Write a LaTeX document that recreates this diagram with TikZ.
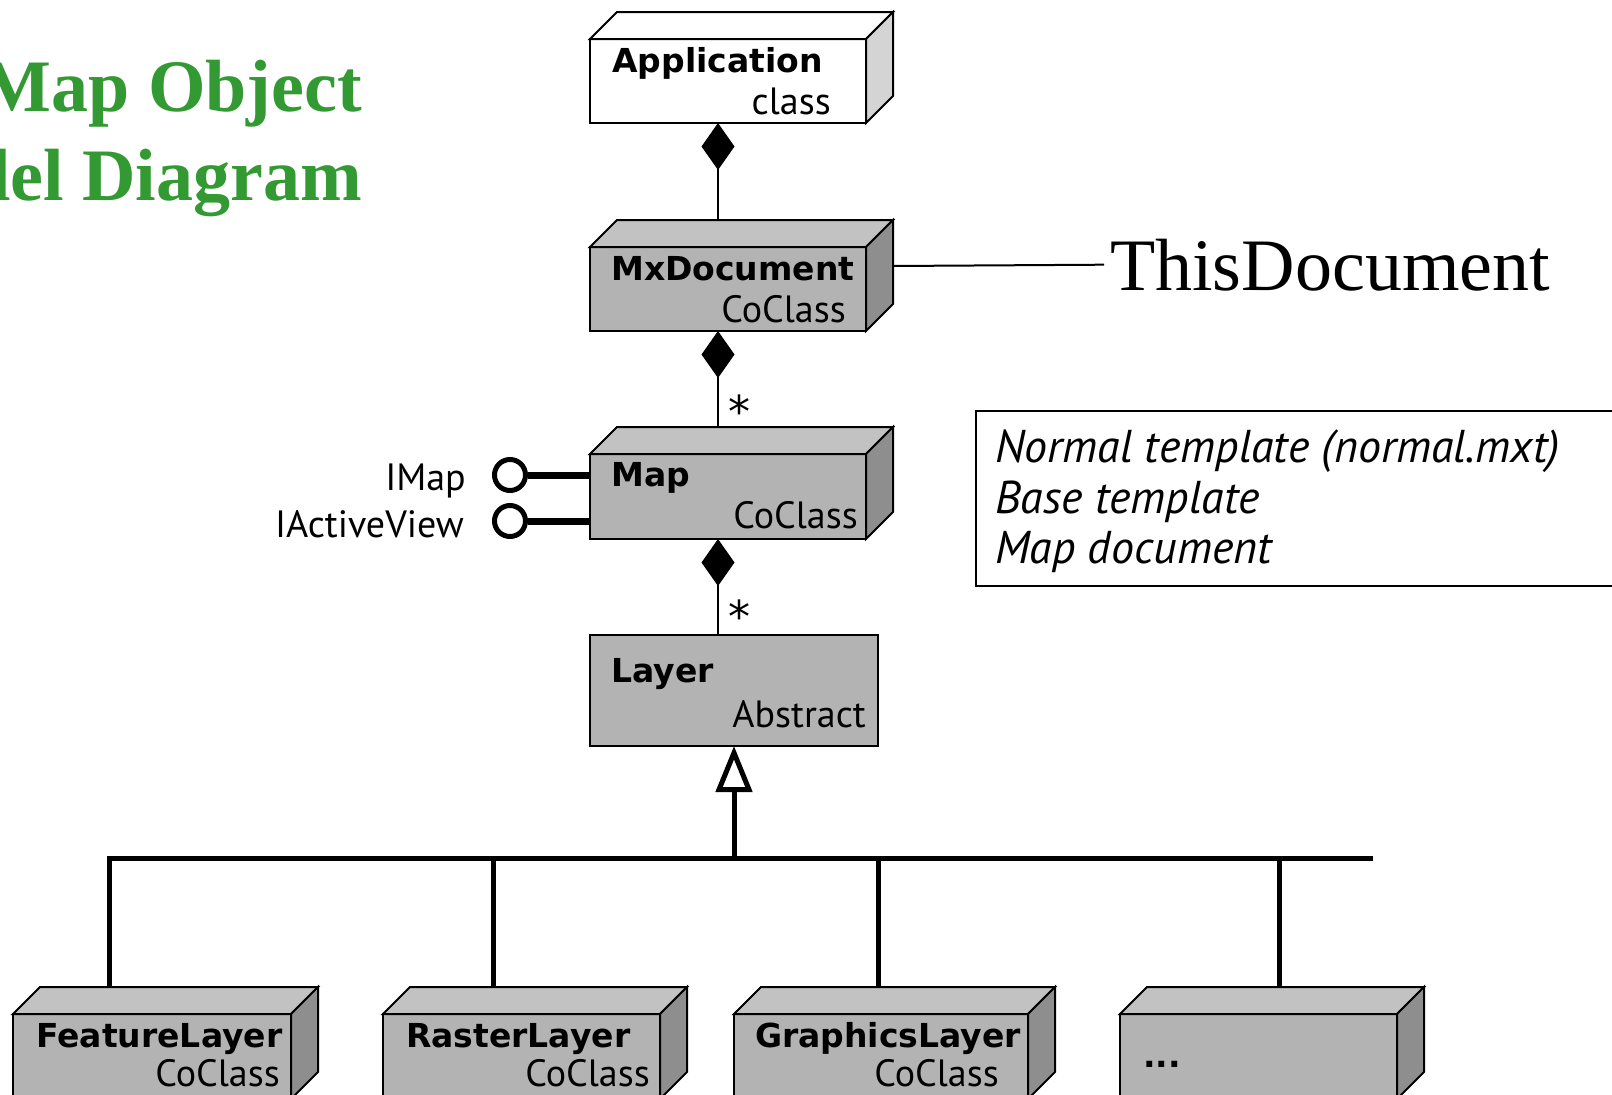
\documentclass[tikz,border=0pt]{standalone}
\usepackage{fontspec}
\usetikzlibrary{calc,arrows.meta}
\newfontfamily\dvs{DejaVu Sans}
\newfontfamily\pts{PT Sans}
\newfontfamily\lser{Liberation Serif}
\definecolor{titlegreen}{HTML}{339933}
\definecolor{frontgray}{HTML}{B3B3B3}
\definecolor{topgray}{HTML}{C2C2C2}
\definecolor{sidegray}{HTML}{8E8E8E}
\definecolor{sidelight}{HTML}{D4D4D4}
\newcommand\cubefaces[3]{%
  \filldraw[facestyle, fill=#2] (#1.north west) -- ++(27pt,27pt) -- ($(#1.north east)+(27pt,27pt)$) -- (#1.north east) -- cycle;
  \filldraw[facestyle, fill=#3] (#1.north east) -- ++(27pt,27pt) -- ($(#1.south east)+(27pt,27pt)$) -- (#1.south east) -- cycle;}
\begin{document}
\begin{tikzpicture}[x=1pt,y=-1pt,
  frontbox/.style={draw, line width=2pt, inner sep=0pt, outer sep=0pt},
  facestyle/.style={draw, line width=2pt},
  cname/.style={font=\dvs\bfseries\fontsize{33pt}{40pt}\selectfont, inner sep=0pt, anchor=base west},
  ckind/.style={font=\pts\fontsize{38pt}{44pt}\selectfont, inner sep=0pt, anchor=base east},
  iface/.style={font=\pts\fontsize{38pt}{44pt}\selectfont, inner sep=0pt, anchor=base east},
  notetext/.style={font=\pts\itshape\fontsize{46pt}{50pt}\selectfont, inner sep=0pt, anchor=base west},
  titletext/.style={font=\lser\bfseries\fontsize{74pt}{80pt}\selectfont, text=titlegreen, inner sep=0pt, anchor=base east},
  startext/.style={font=\dvs\fontsize{44pt}{48pt}\selectfont, inner sep=0pt, anchor=base},
  assoc/.style={draw, line width=2pt},
  compo/.style={assoc, {Diamond[length=47pt,width=33pt]}-},
  inh/.style={draw, line width=5pt},
  lolly/.style={circle, draw, line width=5pt, fill=white, minimum size=31pt, inner sep=0pt},
  lollyline/.style={draw, line width=7pt}
]
\useasboundingbox (0,0) rectangle (1612,1095);
\clip (0,0) rectangle (1612,1095);

% title
\node[titletext] (title1) at (362,111) {Map Object};
\node[titletext] (title2) at (362,200) {del Diagram};

% Application
\node[frontbox, fill=white, minimum width=276pt, minimum height=84pt] (app) at (728,81) {};
\cubefaces{app}{white}{sidelight}
\node[cname] (appN) at (612,72) {Application};
\node[ckind] (appK) at (831,114) {class};

% MxDocument
\node[frontbox, fill=frontgray, minimum width=276pt, minimum height=84pt] (mx) at (728,289) {};
\cubefaces{mx}{topgray}{sidegray}
\node[cname] (mxN) at (611,280) {MxDocument};
\node[ckind] (mxK) at (846,322) {CoClass};

% Map
\node[frontbox, fill=frontgray, minimum width=276pt, minimum height=85pt] (map) at (728,496.5) {};
\cubefaces{map}{topgray}{sidegray}
\node[cname] (mapN) at (611,486) {Map};
\node[ckind] (mapK) at (858,528) {CoClass};

% Layer
\node[frontbox, fill=frontgray, minimum width=288pt, minimum height=111pt] (layer) at (734,690.5) {};
\node[cname] (layerN) at (611,682) {Layer};
\node[ckind] (layerK) at (866,727) {Abstract};

% bottom classes
\node[frontbox, fill=frontgray, minimum width=278pt, minimum height=85pt] (fl) at (152,1056.5) {};
\cubefaces{fl}{topgray}{sidegray}
\node[cname] (flN) at (36,1047) {FeatureLayer};
\node[ckind] (flK) at (280,1086) {CoClass};

\node[frontbox, fill=frontgray, minimum width=277pt, minimum height=85pt] (rl) at (521.5,1056.5) {};
\cubefaces{rl}{topgray}{sidegray}
\node[cname] (rlN) at (406,1047) {RasterLayer};
\node[ckind] (rlK) at (650,1086) {CoClass};

\node[frontbox, fill=frontgray, minimum width=294pt, minimum height=85pt] (gl) at (881,1056.5) {};
\cubefaces{gl}{topgray}{sidegray}
\node[cname] (glN) at (755,1047) {GraphicsLayer};
\node[ckind] (glK) at (999,1086) {CoClass};

\node[frontbox, fill=frontgray, minimum width=277pt, minimum height=85pt] (dots) at (1258.5,1056.5) {};
\cubefaces{dots}{topgray}{sidegray}
\node[cname] (dotsN) at (1143,1067) {...};

% composition connectors
\draw[compo] ($(app.south west)+(128pt,0)$) -- ($(mx.north west)+(128pt,27pt)$);
\draw[compo] ($(mx.south west)+(128pt,0)$) -- ($(map.north west)+(128pt,27pt)$);
\draw[compo] ($(map.south west)+(128pt,0)$) -- ($(layer.north west)+(128pt,0)$);
\node[startext] (star1) at (739,427) {*};
\node[startext] (star2) at (739,632) {*};

% ThisDocument
\node[font=\lser\fontsize{74pt}{80pt}\selectfont, inner sep=0pt, anchor=base west] (td) at (1110,290) {ThisDocument};
\draw[assoc] ($(mx.north east)+(27pt,-19pt)$) -- ($(td.west)+(-6pt,0)$);

% interfaces
\node[lolly] (imap) at (510,475) {};
\node[lolly] (iav) at (510,521) {};
\draw[lollyline] (imap.east) -- (imap.east -| map.west);
\draw[lollyline] (iav.east) -- (iav.east -| map.west);
\node[iface] (imapL) at (466,490) {IMap};
\node[iface] (iavL) at (464,537) {IActiveView};

% inheritance
\coordinate (barR) at (1373,858);
\coordinate (flT) at ($(fl.north west)+(96pt,27pt)$);
\coordinate (rlT) at ($(rl.north west)+(110pt,27pt)$);
\coordinate (glT) at ($(gl.north west)+(144pt,27pt)$);
\coordinate (dotsT) at ($(dots.north west)+(159pt,27pt)$);
\draw[inh] (flT) |- (barR);
\draw[inh] (rlT) -- (rlT |- barR);
\draw[inh] (glT) -- (glT |- barR);
\draw[inh] (dotsT) -- (dotsT |- barR);
\draw[inh, -{Triangle[open, length=46pt, width=36pt]}] (layer.south |- barR) -- (layer.south);

% note
\node[draw, line width=2pt, inner sep=0pt, anchor=north west, minimum width=680pt, minimum height=175pt] (note) at (975,410) {};
\node[notetext] (n1) at (995,462) {Normal template (normal.mxt)};
\node[notetext] (n2) at (995,513) {Base template};
\node[notetext] (n3) at (995,563) {Map document};
\end{tikzpicture}
\end{document}
